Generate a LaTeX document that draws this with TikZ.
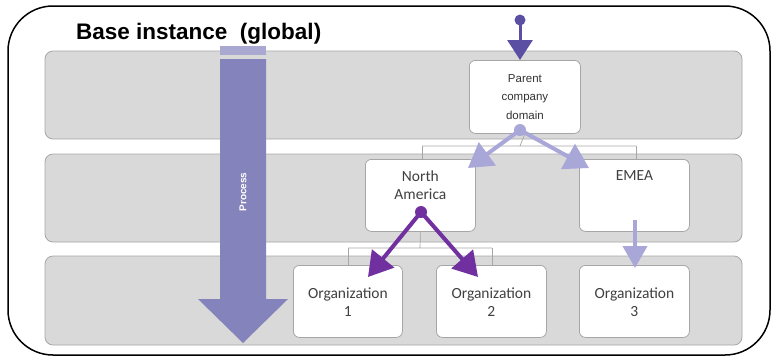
\documentclass[tikz,border=0pt]{standalone}
\usepackage{fontspec}
\setmainfont{Liberation Sans}
\newfontfamily\calib{Carlito}
\usetikzlibrary{arrows.meta}
\definecolor{bandfill}{HTML}{D9D9D9}
\definecolor{bandline}{HTML}{A6A6A6}
\definecolor{procmain}{HTML}{8583BB}
\definecolor{proclight}{HTML}{A9A8D1}
\definecolor{darkblue}{HTML}{5B4FA3}
\definecolor{lightpurp}{HTML}{A9A6D8}
\definecolor{violet}{HTML}{7030A0}
\definecolor{txtgray}{HTML}{404040}
\tikzset{
  band/.style={draw=bandline, fill=bandfill, rounded corners=8pt, line width=0.8pt},
  box/.style={draw=bandline, fill=white, rounded corners=6pt, line width=0.8pt,
    minimum width=110pt, minimum height=72pt, anchor=north west, inner sep=0pt},
  boxtxt/.style={font=\calib\fontsize{15.5}{18}\selectfont, text=txtgray, align=center},
  tree/.style={draw=bandline, line width=0.7pt},
  parr/.style={line width=4pt, -{Triangle[length=24pt,width=28pt]}},
  dotc/.style={circle, inner sep=0pt, minimum size=12pt},
}
\begin{document}
\begin{tikzpicture}[x=1pt,y=-1pt]
\useasboundingbox (0,0) rectangle (774,360);
% outer frame
\draw[line width=1.5pt, rounded corners=45pt] (8,6) rectangle (770,355);
% title
\node[anchor=base west, inner sep=0pt, font=\bfseries\fontsize{22.5}{26}\selectfont] (title) at (76,39) {Base instance\ \ (global)};
% bands
\draw[band] (45,51) rectangle (742,139);
\draw[band] (45,154) rectangle (742,242);
\draw[band] (45,256) rectangle (742,345);
% process arrow
\fill[proclight] (220,46) rectangle (266,55);
\fill[procmain] (220,59) -- (266,59) -- (266,299) -- (288,299) -- (243,343) -- (198,299) -- (220,299) -- cycle;
\node[rotate=90, text=white, font=\bfseries\fontsize{10}{12}\selectfont, inner sep=0pt] (proc) at (243,192) {Process};
% boxes
\node[box, minimum width=111pt, minimum height=73pt] (parent) at (469,60) {};
\node[align=center, font=\fontsize{11.5}{18.5}\selectfont, text=black!80] (ptxt) at (parent.center) {Parent\\company\\domain};
\node[box] (na) at (365,159) {};
\node[boxtxt, anchor=north] (natxt) at ([yshift=-8pt]na.north) {North\\America};
\node[box] (emea) at (579,159) {};
\node[boxtxt, anchor=north] (emeatxt) at ([yshift=-8pt]emea.north) {EMEA};
\node[box, minimum width=109pt] (o1) at (293,265) {};
\node[boxtxt] (o1txt) at ([yshift=-1pt]o1.center) {Organization\\1};
\node[box] (o2) at (436,265) {};
\node[boxtxt] (o2txt) at ([yshift=-1pt]o2.center) {Organization\\2};
\node[box] (o3) at (579,265) {};
\node[boxtxt] (o3txt) at ([yshift=-1pt]o3.center) {Organization\\3};
% tree lines
\coordinate (t1) at (520,146);
\coordinate (t1l) at (422,146);
\coordinate (t1r) at (636,146);
\draw[tree] (parent.south) -- (t1) (t1l) -- (t1r);
\draw[tree] (t1l) -- (t1l |- na.north);
\draw[tree] (t1r) -- (t1r |- emea.north);
\coordinate (t2) at (420,248);
\coordinate (t2l) at (348,248);
\coordinate (t2r) at (492,248);
\draw[tree] (na.south) -- (t2) (t2l) -- (t2r);
\draw[tree] (t2l) -- (t2l |- o1.north);
\draw[tree] (t2r) -- (t2r |- o2.north);
% dark blue input arrow
\node[dotc, fill=darkblue, minimum size=11pt] (d0) at (520,20) {};
\coordinate (d0tip) at (520,60);
\draw[darkblue, line width=3pt, -{Triangle[length=20pt,width=25pt]}] (d0.center) -- (d0tip);
% light purple from parent
\node[dotc, fill=lightpurp] (d1) at (520,130) {};
\coordinate (natip) at (468,168);
\coordinate (emtip) at (589,168);
\draw[lightpurp, parr] (d1.center) -- (natip);
\draw[lightpurp, parr] (d1.center) -- (emtip);
% violet from north america
\node[dotc, fill=violet] (d2) at (421,212) {};
\coordinate (o1tip) at (368,277);
\coordinate (o2tip) at (478,277);
\draw[violet, parr] (d2.center) -- (o1tip);
\draw[violet, parr] (d2.center) -- (o2tip);
% emea to org 3
\coordinate (es) at (635,220);
\coordinate (o3tip) at (635,268);
\draw[lightpurp, line width=4pt, -{Triangle[length=22pt,width=24pt]}] (es) -- (o3tip);
\end{tikzpicture}
\end{document}
